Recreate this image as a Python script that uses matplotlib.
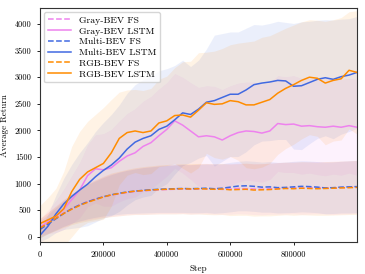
import numpy as np
from matplotlib import pyplot as plt

plt.rcParams["font.family"] = ["cmr10", "DejaVu Serif"]
plt.rcParams["axes.formatter.use_mathtext"] = True

# training steps (every 25000)
steps = np.arange(0, 1000001, 25000)

gray_fs = [170, 270, 360, 450, 530, 600, 660, 710, 750, 785, 810, 835, 855, 865, 875, 885, 890, 895, 900, 895,
           900, 905, 900, 895, 900, 910, 905, 900, 895, 905, 910, 915, 920, 915, 920, 925, 920, 915, 925, 930, 935]
gray_fs_std = [170, 190, 220, 250, 280, 310, 340, 360, 380, 400, 410, 420, 430, 440, 445, 450, 455, 460, 460, 465,
               465, 470, 470, 470, 475, 475, 475, 480, 480, 480, 485, 485, 485, 490, 490, 490, 490, 495, 495, 495, 495]
gray_lstm = [190, 280, 380, 520, 700, 880, 1150, 1280, 1260, 1300, 1420, 1520, 1580, 1700, 1770, 1900, 2020, 2180, 2100, 1990,
             1880, 1900, 1880, 1820, 1900, 1960, 1990, 1980, 1950, 1990, 2130, 2110, 2120, 2080, 2090, 2070, 2060, 2080, 2060, 2090, 2060]
gray_lstm_std = [150, 220, 300, 380, 450, 520, 580, 640, 680, 720, 760, 800, 830, 850, 870, 880, 880, 890, 900, 910,
                 930, 940, 950, 950, 940, 930, 920, 930, 920, 910, 900, 900, 910, 900, 890, 900, 910, 900, 900, 890, 900]

multi_fs = [140, 240, 340, 440, 530, 600, 660, 710, 755, 790, 820, 845, 860, 875, 885, 895, 900, 905, 910, 905,
            910, 915, 905, 915, 935, 955, 960, 950, 935, 940, 925, 930, 940, 950, 945, 935, 920, 925, 935, 940, 945]
multi_fs_std = [160, 180, 210, 240, 270, 300, 320, 340, 360, 380, 395, 405, 415, 425, 430, 435, 440, 445, 450, 450,
                455, 455, 460, 460, 465, 465, 470, 470, 470, 475, 475, 475, 480, 480, 480, 480, 485, 485, 485, 490, 490]
multi_lstm = [30, 200, 430, 620, 760, 880, 990, 1130, 1250, 1350, 1480, 1650, 1780, 1850, 1900, 2020, 2080, 2200, 2330, 2300,
              2400, 2530, 2560, 2620, 2680, 2680, 2760, 2860, 2890, 2910, 2940, 2930, 2830, 2840, 2900, 2960, 2990, 2960, 3010, 3040, 3090]
multi_lstm_std = [120, 220, 350, 480, 600, 700, 780, 850, 900, 950, 1000, 1050, 1080, 1100, 1120, 1100, 1080, 1020, 990, 900,
                  920, 1000, 1230, 1200, 1170, 1170, 1160, 1130, 1090, 1100, 1110, 1100, 1180, 1200, 1150, 1110, 1090, 1115, 1080, 1060, 1050]

rgb_fs = [165, 260, 350, 440, 520, 590, 650, 700, 750, 790, 815, 840, 860, 870, 880, 890, 895, 900, 905, 900,
          905, 900, 895, 900, 885, 890, 895, 880, 885, 890, 900, 910, 905, 915, 910, 905, 910, 915, 920, 925, 930]
rgb_fs_std = [180, 200, 230, 260, 290, 320, 350, 370, 390, 410, 420, 430, 440, 450, 455, 460, 465, 470, 470, 475,
              475, 480, 480, 480, 485, 485, 490, 490, 490, 495, 495, 495, 500, 500, 500, 500, 505, 505, 505, 505, 510]
rgb_lstm = [250, 320, 390, 530, 850, 1080, 1220, 1300, 1380, 1580, 1850, 1960, 1990, 1960, 1990, 2140, 2180, 2280, 2290, 2250,
            2380, 2520, 2490, 2500, 2560, 2540, 2480, 2480, 2530, 2580, 2700, 2790, 2860, 2940, 3000, 2980, 2890, 2940, 2970, 3130, 3090]
rgb_lstm_std = [340, 420, 520, 700, 850, 900, 950, 1000, 1050, 1000, 870, 800, 780, 790, 800, 820, 840, 900, 1000, 1050,
                1080, 950, 1000, 1040, 1050, 1100, 1180, 1200, 1220, 1200, 1150, 1130, 1120, 1100, 1080, 1090, 1160, 1140, 1150, 1100, 1160]

runs = [
    ("Gray-BEV FS", gray_fs, gray_fs_std, "violet", "--"),
    ("Gray-BEV LSTM", gray_lstm, gray_lstm_std, "violet", "-"),
    ("Multi-BEV FS", multi_fs, multi_fs_std, "royalblue", "--"),
    ("Multi-BEV LSTM", multi_lstm, multi_lstm_std, "royalblue", "-"),
    ("RGB-BEV FS", rgb_fs, rgb_fs_std, "darkorange", "--"),
    ("RGB-BEV LSTM", rgb_lstm, rgb_lstm_std, "darkorange", "-"),
]

fig = plt.figure(figsize=(3.65, 2.74), dpi=100)
ax = fig.add_axes([0.1096, 0.1150, 0.8684, 0.8548])

for label, mean, std, color, ls in runs:
    mean = np.array(mean)
    std = np.array(std)
    ax.fill_between(steps, mean - std, mean + std, color=color, alpha=0.1, linewidth=0)
    ax.plot(steps, mean, color=color, linestyle=ls, linewidth=1.1, label=label)

ax.set_xlim(0, 1000000)
ax.set_ylim(-105, 4295)
ax.set_xticks([0, 200000, 400000, 600000, 800000])
ax.set_xticklabels(["0", "200000", "400000", "600000", "800000"])
ax.set_yticks([0, 500, 1000, 1500, 2000, 2500, 3000, 3500, 4000])
ax.set_yticklabels(["0", "500", "1000", "1500", "2000", "2500", "3000", "3500", "4000"])
ax.tick_params(labelsize=6, length=2.5, width=0.6)
for s in ax.spines.values():
    s.set_color("#333333")
    s.set_linewidth(0.8)
ax.set_xlabel("Step", fontsize=6.5)
ax.set_ylabel("Average Return", fontsize=6.5)
ax.legend(loc="upper left", fontsize=7, handlelength=2.4, labelspacing=0.2, borderaxespad=0.4)

plt.savefig("out.png", dpi=100)
